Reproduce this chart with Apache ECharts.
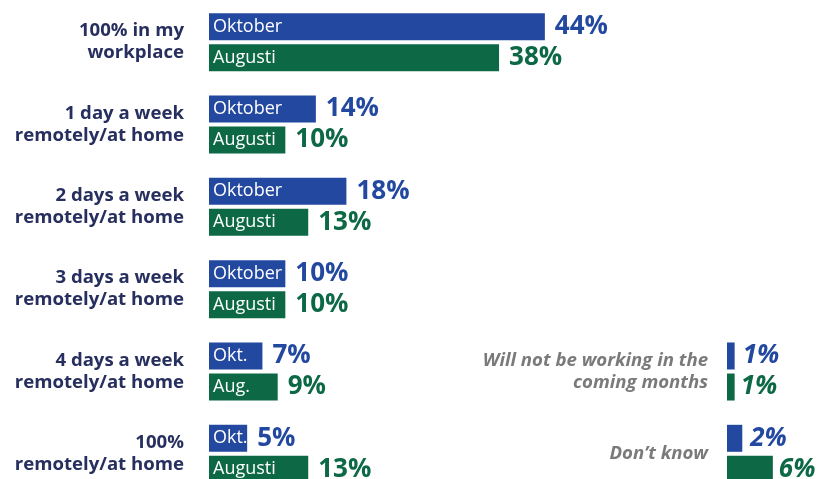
<!DOCTYPE html>
<html>
<head>
<meta charset="utf-8">
<script src="https://cdn.jsdelivr.net/npm/echarts@6/dist/echarts.min.js"></script>
<style>html,body{margin:0;padding:0;background:#fff}#c{width:818px;height:479px}</style>
</head>
<body>
<div id="c"></div>
<script>
var categories = ['100% in my\nworkplace', '1 day a week\nremotely/at home', '2 days a week\nremotely/at home', '3 days a week\nremotely/at home', '4 days a week\nremotely/at home', '100%\nremotely/at home'];
var oktober = [44, 14, 18, 10, 7, 5];
var augusti = [38, 10, 13, 10, 9, 13];
var oktoberNames = ['Oktober', 'Oktober', 'Oktober', 'Oktober', 'Okt.', 'Okt.'];
var augustiNames = ['Augusti', 'Augusti', 'Augusti', 'Augusti', 'Aug.', 'Augusti'];
var otherCategories = ['', '', '', '', 'Will not be working in the\ncoming months', 'Don\u2019t know'];
var otherOktober = [null, null, null, null, 1, 2];
var otherAugusti = [null, null, null, null, 1, 6];

var BLUE = '#2348A0', GREEN = '#0D6846', NAVY = '#272F5F', GREY = '#7A7A7A';
var FONT = 'Open Sans';
var chart = echarts.init(document.getElementById('c'), null, {renderer: 'canvas'});

function zeros(arr) { return arr.map(function (v) { return v == null ? null : 0; }); }

function barSeries(values, names, color, stack, xi, yi) {
  return {
    type: 'bar', xAxisIndex: xi, yAxisIndex: yi, stack: stack,
    data: values, barWidth: 27, barGap: '15%', itemStyle: {color: color},
    silent: true,
    label: names ? {
      show: true, position: 'insideLeft', distance: 4, color: '#fff',
      fontFamily: FONT, fontSize: 18, fontWeight: 'normal',
      formatter: function (p) { return names[p.dataIndex]; }
    } : {show: false}
  };
}
function valSeries(values, color, stack, xi, yi, italic, dist) {
  return {
    type: 'bar', xAxisIndex: xi, yAxisIndex: yi, stack: stack,
    data: zeros(values), barWidth: 27, barGap: '15%', itemStyle: {color: 'transparent'},
    silent: true,
    label: {
      show: true, position: 'right', distance: dist, color: color,
      fontFamily: FONT, fontSize: 26, fontWeight: 'bold', fontStyle: italic ? 'italic' : 'normal',
      formatter: function (p) { return values[p.dataIndex] + '%'; }
    }
  };
}

var hiddenX = function (max, gi) {
  return {type: 'value', gridIndex: gi, min: 0, max: max, show: false, splitLine: {show: false}};
};

chart.setOption({
  animation: false,
  backgroundColor: '#fff',
  grid: [
    {left: 209, top: 1, width: 458, height: 494, containLabel: false, outerBoundsMode: 'none'},
    {left: 727, top: 1, width: 76.4, height: 494, containLabel: false, outerBoundsMode: 'none'}
  ],
  xAxis: [hiddenX(60, 0), hiddenX(10, 1)],
  yAxis: [
    {type: 'category', gridIndex: 0, inverse: true, data: categories,
     axisLine: {show: false}, axisTick: {show: false}, splitLine: {show: false},
     axisLabel: {margin: 25, color: NAVY, fontFamily: FONT, fontSize: 18.6, fontWeight: 'bold', lineHeight: 22, align: 'right'}},
    {type: 'category', gridIndex: 1, inverse: true, data: otherCategories,
     axisLine: {show: false}, axisTick: {show: false}, splitLine: {show: false},
     axisLabel: {margin: 19, color: GREY, fontFamily: FONT, fontSize: 18.6, fontWeight: 'bold', fontStyle: 'italic', lineHeight: 22, align: 'right'}}
  ],
  series: [
    barSeries(oktober, oktoberNames, BLUE, 'o', 0, 0),
    valSeries(oktober, BLUE, 'o', 0, 0, false, 10),
    barSeries(augusti, augustiNames, GREEN, 'a', 0, 0),
    valSeries(augusti, GREEN, 'a', 0, 0, false, 10),
    barSeries(otherOktober, null, BLUE, 'o2', 1, 1),
    valSeries(otherOktober, BLUE, 'o2', 1, 1, true, 8),
    barSeries(otherAugusti, null, GREEN, 'a2', 1, 1),
    valSeries(otherAugusti, GREEN, 'a2', 1, 1, true, 6)
  ]
});
</script>
</body>
</html>
